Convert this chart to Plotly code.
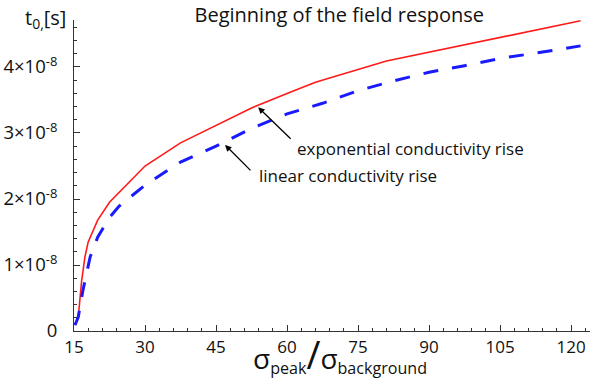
import plotly.graph_objects as go

# Ratio of peak to background conductivity
x_exp = [15.2, 15.9, 16.6, 17.3, 18.0, 20.0, 22.5, 30.0, 37.5, 45.0, 52.5, 60.0, 66.0, 81.0, 122.0]
# Onset time of the field response, exponential conductivity rise [s]
t_exp = [0.09e-8, 0.21e-8, 0.75e-8, 1.12e-8, 1.35e-8, 1.68e-8, 1.95e-8, 2.50e-8, 2.85e-8,
         3.11e-8, 3.38e-8, 3.60e-8, 3.77e-8, 4.09e-8, 4.70e-8]

x_lin = [15.2, 15.9, 16.9, 18.4, 20.0, 22.5, 24.5, 30.0, 37.5, 45.0, 52.5, 60.0, 67.5,
         75.0, 82.5, 90.0, 97.5, 105.0, 112.5, 122.0]
# Onset time of the field response, linear conductivity rise [s]
t_lin = [0.09e-8, 0.21e-8, 0.62e-8, 1.12e-8, 1.42e-8, 1.72e-8, 1.89e-8, 2.21e-8, 2.56e-8,
         2.80e-8, 3.07e-8, 3.29e-8, 3.45e-8, 3.64e-8, 3.79e-8, 3.92e-8, 4.02e-8, 4.13e-8,
         4.21e-8, 4.32e-8]

x_ticks = [15, 30, 45, 60, 75, 90, 105, 120]
y_ticks = [0, 1e-8, 2e-8, 3e-8, 4e-8]
y_ticktext = ["0", "1×10<sup>-8</sup>", "2×10<sup>-8</sup>", "3×10<sup>-8</sup>", "4×10<sup>-8</sup>"]

FONT = "Open Sans"

fig = go.Figure()
fig.add_trace(go.Scatter(x=x_exp, y=t_exp, mode="lines",
                         line=dict(color="#ff1a1a", width=1.6)))
fig.add_trace(go.Scatter(x=x_lin, y=t_lin, mode="lines",
                         line=dict(color="#1a1aff", width=3, dash="15px,14px")))

fig.update_layout(
    width=591, height=381,
    margin=dict(l=74, r=1, t=20, b=50),
    paper_bgcolor="white", plot_bgcolor="white",
    showlegend=False,
    font=dict(family=FONT, size=17, color="#111"),
    title=dict(text="Beginning of the field response", xref="container", yref="container",
               x=0.574, xanchor="center", y=1 - 15 / 381, yanchor="middle",
               font=dict(family=FONT, size=20, color="#111")),
)
fig.update_xaxes(
    range=[15, 124], tickvals=x_ticks, showgrid=False, zeroline=False,
    showline=True, linecolor="#333", linewidth=1,
    ticks="inside", ticklen=6, tickcolor="#333",
    minor=dict(ticks="inside", ticklen=3, dtick=3, tick0=15, tickcolor="#333"),
    tickfont=dict(size=17), ticklabelstandoff=1,
)
fig.update_yaxes(
    range=[0, 4.712e-8], tickvals=y_ticks, ticktext=y_ticktext, showgrid=False, zeroline=False,
    showline=True, linecolor="#333", linewidth=1,
    ticks="inside", ticklen=6, tickcolor="#333",
    minor=dict(ticks="inside", ticklen=3, dtick=0.2e-8, tick0=0, tickcolor="#333"),
    tickfont=dict(size=18.5), ticklabelstandoff=12,
)

# y-axis label
fig.add_annotation(text="t<sub>0,</sub>[s]", xref="paper", yref="paper",
                   x=(23 - 74) / 516, y=(331 - 18) / 311, xanchor="left", yanchor="middle",
                   showarrow=False, font=dict(size=20))
# x-axis label
fig.add_annotation(
    text="<span style='font-size:28px'>σ</span><sub>peak</sub>"
         "<span style='font-size:38px'>/</span>"
         "<span style='font-size:28px'>σ</span><sub>background</sub>",
    xref="paper", yref="paper", x=(340 - 74) / 516, y=(331 - 354) / 311,
    xanchor="center", yanchor="middle",
    showarrow=False, font=dict(size=23))

# curve labels with arrows
fig.add_annotation(x=53.9, y=3.39e-8, ax=34, ay=33, text="", showarrow=True,
                   arrowhead=2, arrowsize=1, arrowwidth=1.3, arrowcolor="black")
fig.add_annotation(x=46.9, y=2.82e-8, ax=27, ay=27, text="", showarrow=True,
                   arrowhead=2, arrowsize=1, arrowwidth=1.3, arrowcolor="black")
fig.add_annotation(x=61.7, y=2.77e-8, text="exponential conductivity rise", showarrow=False,
                   xanchor="left", yanchor="middle", font=dict(size=17))
fig.add_annotation(x=53.7, y=2.36e-8, text="linear conductivity rise", showarrow=False,
                   xanchor="left", yanchor="middle", font=dict(size=17))

fig.write_html("out.html")
